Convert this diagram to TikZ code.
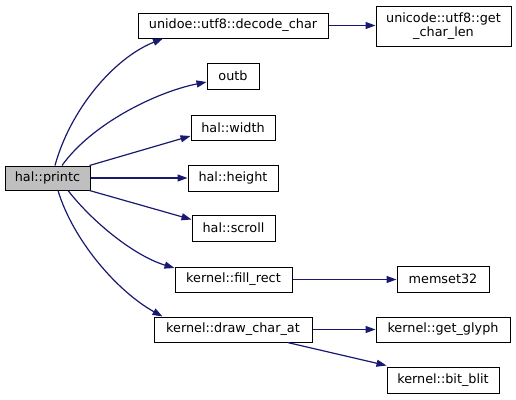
\documentclass[tikz,border=0pt]{standalone}
\usepackage{fontspec}
\setmainfont{DejaVu Sans}
\usetikzlibrary{arrows.meta}
\definecolor{edgeblue}{HTML}{191970}
\definecolor{rootgray}{HTML}{BFBFBF}
\tikzset{
  fn/.style={draw=black, line width=1pt, fill=white, inner sep=0pt,
    minimum height=25pt, align=center, font=\fontsize{12.8}{14.5}\selectfont},
  root/.style={fn, fill=rootgray},
  call/.style={draw=edgeblue, line width=1.2pt,
    -{Triangle[length=10pt,width=7pt]}}
}
\begin{document}
\begin{tikzpicture}[x=1pt,y=-1pt]
\useasboundingbox (0,0) rectangle (516,399);
% caller
\node[root, minimum width=85pt, minimum height=24pt] (printc) at (47.5,178) {hal::printc};
% callees
\node[fn, minimum width=190pt] (decode) at (233,25.5) {unidoe::utf8::decode\_char};
\node[fn, minimum width=135pt, minimum height=40pt] (getlen) at (443.5,26) {unicode::utf8::get\\\_char\_len};
\node[fn, minimum width=52pt, minimum height=26pt] (outb) at (233,76) {outb};
\node[fn, minimum width=84pt] (width) at (233,127.5) {hal::width};
\node[fn, minimum width=90pt, minimum height=26pt] (height) at (233,178) {hal::height};
\node[fn, minimum width=83pt, minimum height=26pt] (scroll) at (233.5,228) {hal::scroll};
\node[fn, minimum width=117pt] (fillrect) at (233.5,279.5) {kernel::fill\_rect};
\node[fn, minimum width=92pt, minimum height=26pt] (memset) at (443,279) {memset32};
\node[fn, minimum width=158pt] (drawchar) at (233,329.5) {kernel::draw\_char\_at};
\node[fn, minimum width=134pt] (glyph) at (443,329.5) {kernel::get\_glyph};
\node[fn, minimum width=112pt, minimum height=26pt] (bitblit) at (443,380) {kernel::bit\_blit};
% calls from hal::printc
\draw[call] ([xshift=7.5pt]printc.north) .. controls +(15,-55) and +(-50,20) .. ([xshift=-70pt]decode.south);
\draw[call] ([xshift=14.5pt]printc.north) .. controls +(30,-42) and +(-50,10) .. ([yshift=-6pt]outb.west);
\draw[call] ([xshift=-1pt]printc.north east) -- ([yshift=-8.5pt]width.west);
\draw[call] (printc.east) -- (height.west);
\draw[call] ([xshift=-1pt]printc.south east) -- ([yshift=-5pt]scroll.north west);
\draw[call] ([xshift=20.5pt]printc.south) .. controls +(25,32) and +(-40,-12) .. ([yshift=-1.5pt]fillrect.north west);
\draw[call] ([xshift=10.5pt]printc.south) .. controls +(15,50) and +(-45,-25) .. ([xshift=9pt]drawchar.north west);
% further calls
\draw[call] (decode.east) -- (decode.east -| getlen.west);
\draw[call] (fillrect.east) -- (fillrect.east -| memset.west);
\draw[call] (drawchar.east) -- (drawchar.east -| glyph.west);
\draw[call] ([xshift=-25pt]drawchar.south east) -- ([yshift=1pt]bitblit.north west);
\end{tikzpicture}
\end{document}
